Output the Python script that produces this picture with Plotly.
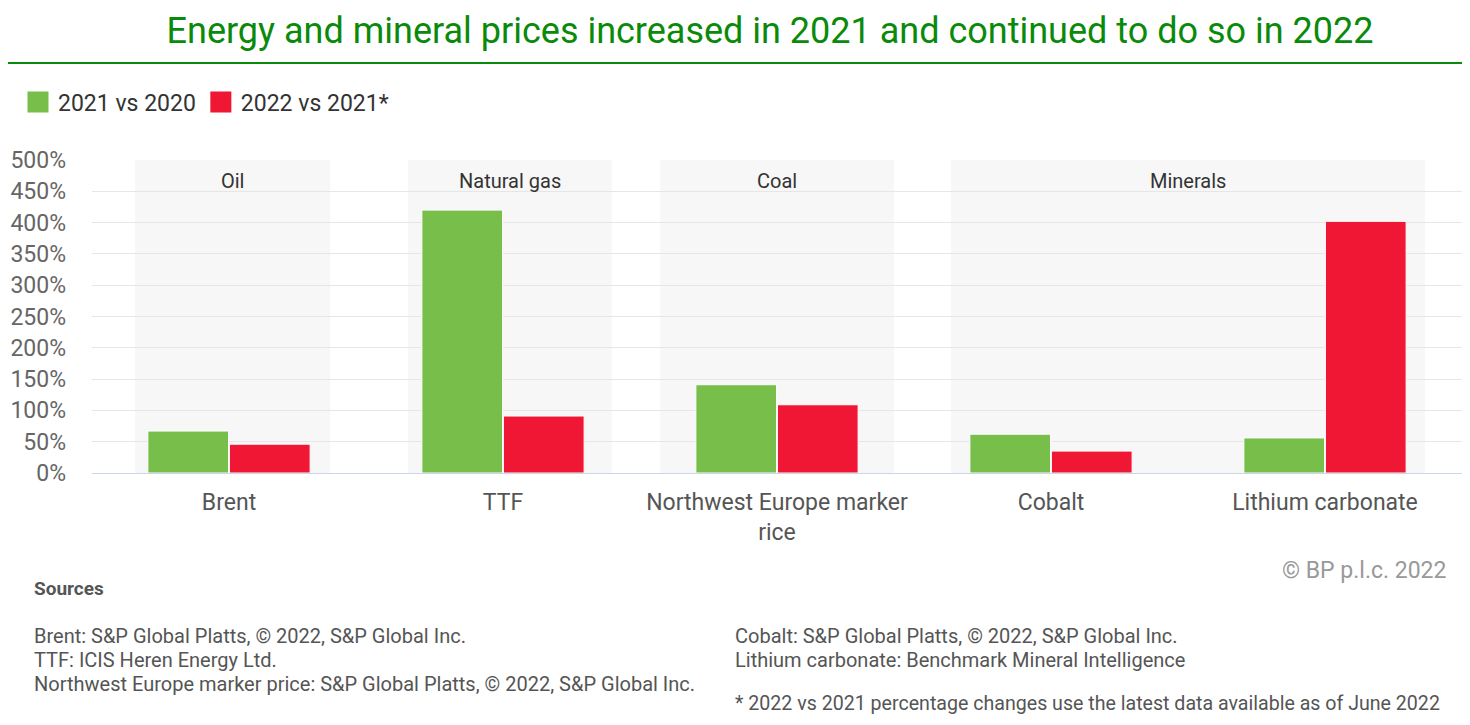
import plotly.graph_objects as go

# data (percentage change in price)
categories = ["Brent", "TTF", "Northwest Europe marker price", "Cobalt", "Lithium carbonate"]
tick_labels = ["Brent", "TTF", "Northwest Europe marker<br>rice", "Cobalt", "Lithium carbonate"]
chg_2021_vs_2020 = [67, 420, 141, 62, 56]
chg_2022_vs_2021 = [46, 91, 109, 35, 402]
series_names = ["2021 vs 2020", "2022 vs 2021*"]

groups = ["Oil", "Natural gas", "Coal", "Minerals"]
group_members = [["Brent"], ["TTF"], ["Northwest Europe marker price"], ["Cobalt", "Lithium carbonate"]]

sources_left = [
    "Brent: S&P Global Platts, © 2022, S&P Global Inc.",
    "TTF: ICIS Heren Energy Ltd.",
    "Northwest Europe marker price: S&P Global Platts, © 2022, S&P Global Inc.",
]
sources_right = [
    "Cobalt: S&P Global Platts, © 2022, S&P Global Inc.",
    "Lithium carbonate: Benchmark Mineral Intelligence",
]
footnote = "* 2022 vs 2021 percentage changes use the latest data available as of June 2022"

GREEN = "#77bf4a"
RED = "#ef1733"
FONT = "Roboto"

# the page body adds an 8px margin, so lay out in page pixels minus 8
OFF = 8
W, H = 1454, 709
ML, MT = 92 - OFF, 160 - OFF
PLOT_R, PLOT_B = 1454, 473 - OFF
MR, MB = W - PLOT_R, H - PLOT_B
PW = PLOT_R - ML
PH = PLOT_B - MT


def px_x(p):
    return (p - OFF - ML) / PW


def px_y(p):
    return (PLOT_B - (p - OFF)) / PH


fig = go.Figure()

fig.add_trace(go.Bar(x=categories, y=chg_2021_vs_2020, name=series_names[0],
                     marker=dict(color=GREEN, line=dict(color="white", width=1)),
                     showlegend=False))
fig.add_trace(go.Bar(x=categories, y=chg_2022_vs_2021, name=series_names[1],
                     marker=dict(color=RED, line=dict(color="white", width=1)),
                     showlegend=False))

# legend entries with bigger square swatches
for nm, col in zip(series_names, [GREEN, RED]):
    fig.add_trace(go.Scatter(x=[None], y=[None], mode="markers", name=nm,
                             marker=dict(symbol="square", size=16, color=col,
                                         line=dict(color=col, width=5))))

# grey background bands behind each group, with group titles
pads = [(0.343, 0.369), (0.347, 0.398), (0.427, 0.427), (0.365, 0.365)]
for g, members, (pl, pr) in zip(groups, group_members, pads):
    i0 = categories.index(members[0])
    i1 = categories.index(members[-1])
    fig.add_shape(type="rect", xref="x", yref="y", x0=i0 - pl, x1=i1 + pr, y0=0, y1=500,
                  fillcolor="#f7f7f7", line=dict(width=0), layer="below")
    fig.add_annotation(x=(i0 - pl + i1 + pr) / 2, xref="x", y=px_y(181), yref="paper",
                       yanchor="middle", text=g, showarrow=False,
                       font=dict(family=FONT, size=20, color="#333333"))

# green rule under the title
fig.add_shape(type="line", xref="paper", yref="paper", x0=px_x(0), x1=px_x(1470),
              y0=px_y(63), y1=px_y(63), line=dict(color="#0a8a0a", width=2))

fig.add_annotation(x=px_x(1449), y=px_y(570), xref="paper", yref="paper", xanchor="right",
                   yanchor="middle", text="© BP p.l.c. 2022", showarrow=False,
                   font=dict(family=FONT, size=23, color="#999999"))

fig.add_annotation(x=px_x(32), y=px_y(588), xref="paper", yref="paper", xanchor="left",
                   yanchor="middle", text="<b>Sources</b>", showarrow=False,
                   font=dict(family=FONT, size=19, color="#555555"))

for k, t in enumerate(sources_left):
    fig.add_annotation(x=px_x(32), y=px_y(636 + 24 * k), xref="paper", yref="paper",
                       xanchor="left", yanchor="middle", text=t, showarrow=False,
                       font=dict(family=FONT, size=20, color="#555555"))
for k, t in enumerate(sources_right):
    fig.add_annotation(x=px_x(733), y=px_y(636 + 24 * k), xref="paper", yref="paper",
                       xanchor="left", yanchor="middle", text=t, showarrow=False,
                       font=dict(family=FONT, size=20, color="#555555"))
fig.add_annotation(x=px_x(733), y=px_y(703), xref="paper", yref="paper",
                   xanchor="left", yanchor="middle", text=footnote, showarrow=False,
                   font=dict(family=FONT, size=19.6, color="#555555"))

fig.update_layout(
    width=W, height=H,
    margin=dict(l=ML, r=MR, t=MT, b=MB),
    paper_bgcolor="white", plot_bgcolor="white",
    barmode="group", bargap=0.405, bargroupgap=0.01,
    font=dict(family=FONT),
    title=dict(text="Energy and mineral prices increased in 2021 and continued to do so in 2022",
               x=(770 - OFF) / W, xref="container", xanchor="center",
               y=1 - (30 - OFF) / H, yref="container", yanchor="middle",
               font=dict(family=FONT, size=36, color="#0a8a0a")),
    legend=dict(orientation="h", x=px_x(18), y=px_y(102), xanchor="left", yanchor="middle",
                font=dict(family=FONT, size=23, color="#333333"), itemclick=False,
                bgcolor="rgba(0,0,0,0)"),
    xaxis=dict(tickmode="array", tickvals=categories, ticktext=tick_labels,
               tickfont=dict(family=FONT, size=23, color="#555555"),
               showline=True, linecolor="#ccd6eb", linewidth=1, ticks="",
               showgrid=False, zeroline=False, ticklabelstandoff=8),
    yaxis=dict(range=[0, 500], dtick=50, ticksuffix="%",
               tickfont=dict(family=FONT, size=23, color="#666666"),
               showgrid=True, gridcolor="#e6e6e6", gridwidth=1, zeroline=False,
               ticks="", ticklabelstandoff=25),
)

fig.write_html("out.html")
